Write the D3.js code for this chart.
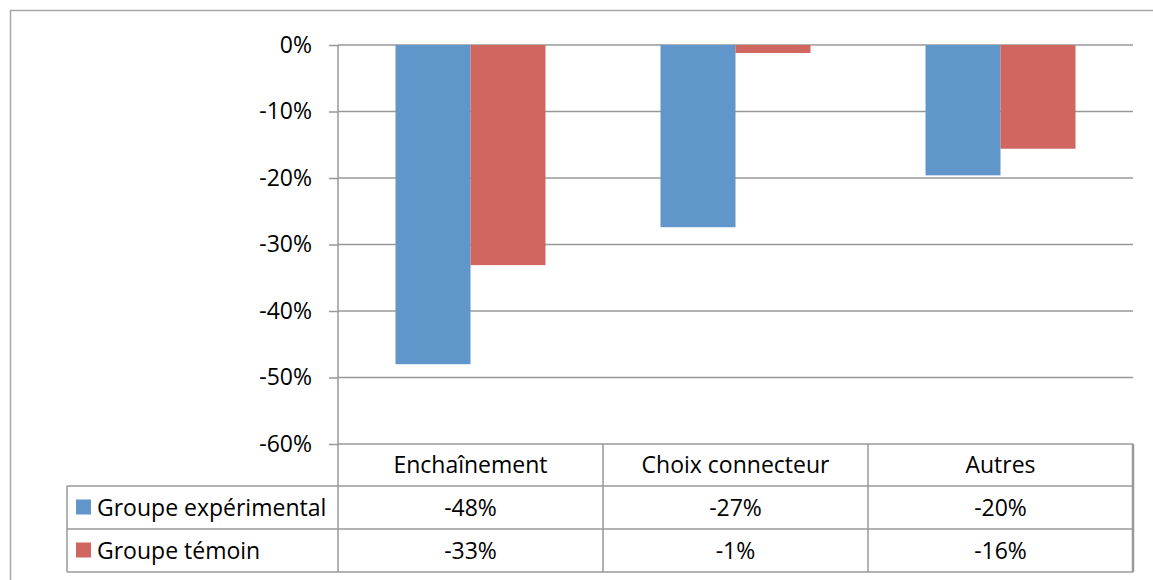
<!DOCTYPE html>
<html>
<head>
<meta charset="utf-8">
<script src="https://cdn.jsdelivr.net/npm/d3@7"></script>
<style>
  html, body { margin: 0; padding: 0; background: #fff; }
  svg { display: block; font-family: "Open Sans", "Noto Sans", sans-serif; }
</style>
</head>
<body>
<svg id="chart" width="1153" height="580"></svg>
<script>
// Categories, series and their values
const categories = ["Enchaînement", "Choix connecteur", "Autres"];
const seriesNames = ["Groupe expérimental", "Groupe témoin"];
const seriesColors = ["#6196ca", "#cf665f"];
const experimental = [-0.48, -0.274, -0.196];
const temoin = [-0.331, -0.012, -0.156];
const yTicks = [0, -0.1, -0.2, -0.3, -0.4, -0.5, -0.6];

const seriesValues = [experimental, temoin];
// Percent format with a plain hyphen for the minus sign
const locale = d3.formatLocale({
  decimal: ".", thousands: " ", grouping: [3], currency: ["", " €"],
  minus: "-", percent: "%"
});
const fmt = locale.format(".0%");

const svg = d3.select("#chart");
const W = 1153, H = 580;
const plot = { left: 338, right: 1133, top: 45, bottom: 444 };
const table = { left: 67, rowH: 43, headerH: 42 };
const fontSize = 23;
const gridColor = "#989898";

svg.append("rect").attr("width", W).attr("height", H).attr("fill", "#fff");

// Outer chart frame
svg.append("rect")
  .attr("x", 10.5).attr("y", 10.5)
  .attr("width", W).attr("height", H)
  .attr("fill", "none").attr("stroke", "#a6a6a6").attr("stroke-width", 1.5);

const y = d3.scaleLinear().domain([-0.6, 0]).range([plot.bottom, plot.top]);
const x = d3.scaleBand().domain(categories).range([plot.left, plot.right]).padding(0);
const inner = d3.scaleBand().domain(seriesNames)
  .range([x.bandwidth() * 0.217, x.bandwidth() * 0.783]).padding(0);

// Horizontal gridlines
svg.append("g").selectAll("line").data(yTicks).join("line")
  .attr("x1", plot.left).attr("x2", plot.right)
  .attr("y1", d => y(d)).attr("y2", d => y(d))
  .attr("stroke", gridColor).attr("stroke-width", 1.5);

// Value axis
const yAxis = svg.append("g")
  .attr("transform", `translate(${plot.left},0)`)
  .call(d3.axisLeft(y).tickValues(yTicks).tickFormat(fmt).tickSize(9).tickPadding(17));
yAxis.select(".domain").remove();
yAxis.selectAll(".tick line").attr("stroke", gridColor).attr("stroke-width", 1.5);
yAxis.selectAll(".tick text")
  .attr("font-size", fontSize).attr("fill", "#000")
  .attr("font-family", "'Open Sans', 'Noto Sans', sans-serif");

// Bars
const groups = svg.append("g").selectAll("g").data(seriesNames).join("g")
  .attr("fill", (d, i) => seriesColors[i]);
groups.selectAll("rect")
  .data((s, si) => categories.map((c, ci) => ({ c, s, v: seriesValues[si][ci] })))
  .join("rect")
  .attr("x", d => x(d.c) + inner(d.s))
  .attr("width", inner.bandwidth())
  .attr("y", d => y(0))
  .attr("height", d => y(d.v) - y(0));

// Data table
const tableTop = plot.bottom;
const row1 = tableTop + table.headerH;
const row2 = row1 + table.rowH;
const row3 = row2 + table.rowH;
const tg = svg.append("g").attr("stroke", gridColor).attr("stroke-width", 1.5);

// Vertical axis line running through the table
tg.append("line").attr("x1", plot.left).attr("x2", plot.left).attr("y1", plot.top).attr("y2", row3);
// Category column separators
categories.forEach(c => {
  const xr = x(c) + x.bandwidth();
  tg.append("line").attr("x1", xr).attr("x2", xr).attr("y1", tableTop).attr("y2", row3)
    .attr("stroke-width", c === categories[categories.length - 1] ? 2.5 : 1.5);
});
[row1, row2, row3].forEach(yy => {
  tg.append("line").attr("x1", table.left).attr("x2", plot.right).attr("y1", yy).attr("y2", yy);
});
tg.append("line").attr("x1", table.left).attr("x2", table.left).attr("y1", row1).attr("y2", row3);

// Header labels
svg.append("g").selectAll("text").data(categories).join("text")
  .attr("x", d => x(d) + x.bandwidth() / 2)
  .attr("y", tableTop + table.headerH / 2)
  .attr("dy", "0.36em")
  .attr("text-anchor", "middle")
  .attr("font-size", fontSize)
  .text(d => d);

// Series rows: legend key, name and values
seriesNames.forEach((s, si) => {
  const top = row1 + si * table.rowH;
  const cy = top + table.rowH / 2;
  svg.append("rect")
    .attr("x", 76).attr("y", cy - 8).attr("width", 15).attr("height", 15)
    .attr("fill", seriesColors[si]);
  svg.append("text")
    .attr("x", 97).attr("y", cy).attr("dy", "0.36em")
    .attr("font-size", fontSize).text(s);
  svg.append("g").selectAll("text").data(categories).join("text")
    .attr("x", d => x(d) + x.bandwidth() / 2)
    .attr("y", cy).attr("dy", "0.36em")
    .attr("text-anchor", "middle")
    .attr("font-size", fontSize)
    .text((d, ci) => fmt(seriesValues[si][ci]));
});
</script>
</body>
</html>
